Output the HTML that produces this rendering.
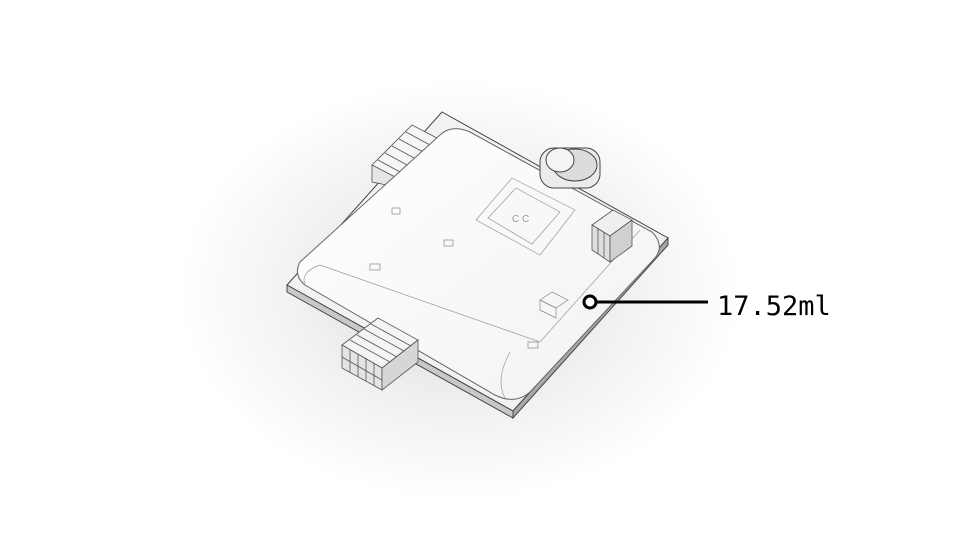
<!DOCTYPE html>
<html><head><meta charset="utf-8"><style>
html,body{margin:0;padding:0;background:#fff;width:960px;height:540px;overflow:hidden}
svg{display:block}
</style></head><body>
<svg width="960" height="540" viewBox="0 0 960 540">
<defs>
<radialGradient id="sh" cx="460" cy="290" r="280" gradientUnits="userSpaceOnUse" gradientTransform="translate(460 290) scale(1 0.75) translate(-460 -290)">
<stop offset="0" stop-color="#d6d6d6"/><stop offset="0.5" stop-color="#eeeeee"/><stop offset="1" stop-color="#fff"/>
</radialGradient>
<linearGradient id="edge" x1="0" y1="0" x2="1" y2="1"><stop offset="0" stop-color="#fff"/><stop offset="1" stop-color="#f2f2f2"/></linearGradient>
</defs>
<rect width="960" height="540" fill="#fff"/>
<ellipse cx="460" cy="290" rx="280" ry="210" fill="url(#sh)"/>
<g stroke="#444" stroke-width="1">
<polygon points="287,285 442,112 668,238 513,411" fill="#f2f2f2"/>
<polygon points="287,285 513,411 513,418 287,292" fill="#c8c8c8"/>
<polygon points="513,411 668,238 668,245 513,418" fill="#a8a8a8"/>
</g>
<g stroke="#555" stroke-width="0.8" fill="#f6f6f6">
<polygon points="372,165 412,125 460,150 420,190"/>
<polygon points="372,165 420,190 420,192 372,182" fill="#e6e6e6"/>
<polyline fill="none" points="378,160 426,186"/><polyline fill="none" points="385,153 433,179"/><polyline fill="none" points="392,146 440,172"/><polyline fill="none" points="399,139 447,165"/><polyline fill="none" points="406,132 454,158"/>
</g>
<g stroke="#666" stroke-width="1">
<path d="M300,262 Q293,275 305,285 L495,395 Q515,405 530,392 L655,258 Q665,245 652,232 L470,132 Q452,124 440,135 Z" fill="url(#edge)"/>
<polyline fill="none" stroke="#999" stroke-width="0.7" points="320,265 540,342 640,230"/>
<path d="M305,285 Q300,272 320,265" fill="none" stroke="#999" stroke-width="0.7"/>
<path d="M505,398 Q495,380 510,352" fill="none" stroke="#999" stroke-width="0.7"/>
</g>
<g stroke="#444" stroke-width="1">
<rect x="540" y="148" width="60" height="40" rx="14" fill="#ececec"/>
<ellipse cx="575" cy="165" rx="22" ry="16" fill="#dcdcdc"/>
<ellipse cx="560" cy="160" rx="14" ry="12" fill="#f4f4f4"/>
</g>
<g stroke="#999" stroke-width="0.7" fill="none">
<polygon points="476,220 512,178 575,210 540,255" fill="#f8f8f8"/>
<polygon points="488,218 516,188 560,212 532,244"/>
<text x="512" y="222" font-family="Liberation Sans, sans-serif" font-size="10" fill="#999" stroke="none">C C</text>
</g>
<g stroke="#555" stroke-width="0.8" fill="#efefef">
<polygon points="592,225 613,210 632,220 610,236"/>
<polygon points="592,225 610,236 610,262 592,250" fill="#dedede"/>
<polygon points="610,236 632,220 632,246 610,262" fill="#d0d0d0"/>
<line x1="598" y1="229" x2="598" y2="254"/><line x1="604" y1="232" x2="604" y2="258"/>
</g>
<g stroke="#555" stroke-width="0.8" fill="#f4f4f4">
<polygon points="342,345 378,318 418,340 382,368"/>
<polygon points="342,345 382,368 382,390 342,368" fill="#e4e4e4"/>
<polygon points="382,368 418,340 418,362 382,390" fill="#d6d6d6"/>
<line x1="350" y1="340" x2="390" y2="362"/><line x1="357" y1="335" x2="397" y2="357"/><line x1="364" y1="329" x2="404" y2="351"/><line x1="371" y1="324" x2="411" y2="346"/>
<line x1="342" y1="357" x2="382" y2="380"/>
<line x1="350" y1="350" x2="350" y2="372"/><line x1="358" y1="354" x2="358" y2="377"/><line x1="366" y1="359" x2="366" y2="381"/><line x1="374" y1="363" x2="374" y2="386"/>
</g>
<g stroke="#888" stroke-width="0.7" fill="none">
<rect x="370" y="264" width="10" height="6"/><rect x="444" y="240" width="9" height="6"/><rect x="392" y="208" width="8" height="6"/><rect x="528" y="342" width="10" height="6"/>
<polygon points="540,300 552,292 568,300 556,308"/><polygon points="540,300 556,308 556,318 540,310"/>
</g>
<g>
<line x1="596" y1="302" x2="708" y2="302" stroke="#000" stroke-width="3"/>
<circle cx="590" cy="302" r="6" fill="#fff" stroke="#000" stroke-width="3"/>
<text x="717" y="315" font-family="DejaVu Sans Mono, Liberation Mono, monospace" font-size="27" fill="#000">17.52ml</text>
</g>
</svg>
</body></html>
